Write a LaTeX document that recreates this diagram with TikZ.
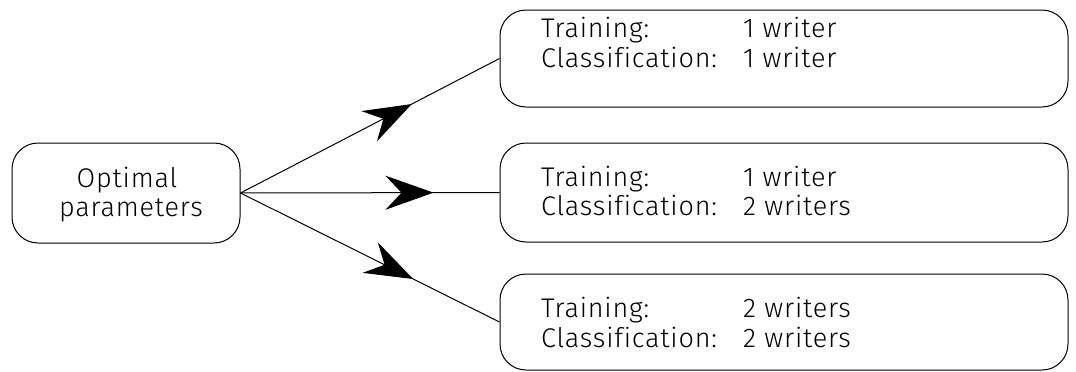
\documentclass[tikz,border=0pt]{standalone}
\usepackage{fontspec}
\setmainfont{Fira Sans}[UprightFont={* Light},LetterSpace=3,Ligatures={NoCommon}]
\usetikzlibrary{arrows.meta,decorations.markings}
\tikzset{
  box/.style={draw,line width=1pt,rounded corners=26pt,inner sep=0pt},
  txt/.style={anchor=base west,inner sep=0pt,font=\fontsize{27}{32}\selectfont},
  ctxt/.style={anchor=base,inner sep=0pt,font=\fontsize{27}{32}\selectfont},
  conn/.style={line width=1pt,postaction={decorate},
    decoration={markings,mark=at position 193pt with {\arrow{Stealth[length=48pt,width=34pt,inset=16pt]}}}}
}
\begin{document}
\begin{tikzpicture}[x=1pt,y=-1pt]
\useasboundingbox (0,0) rectangle (1076,372);
\node[box,minimum width=228pt,minimum height=100pt] (L) at (126,193) {};
\node[ctxt] (L1) at (127,187) {Optimal};
\node[ctxt] (L2) at (131,216) {parameters};
\node[box,minimum width=568pt,minimum height=97pt] (A) at (784,58.5) {};
\node[box,minimum width=568pt,minimum height=99pt] (B) at (784,192.5) {};
\node[box,minimum width=568pt,minimum height=96pt] (C) at (784,322) {};
\node[txt] (A1) at (541,37) {Training:};
\node[txt] (A2) at (743,37) {1 writer};
\node[txt] (A3) at (541,67) {Classification:};
\node[txt] (A4) at (743,67) {1 writer};
\node[txt] (B1) at (541,186) {Training:};
\node[txt] (B2) at (743,186) {1 writer};
\node[txt] (B3) at (541,215) {Classification:};
\node[txt] (B4) at (743,215) {2 writers};
\node[txt] (C1) at (541,317) {Training:};
\node[txt] (C2) at (743,317) {2 writers};
\node[txt] (C3) at (541,347) {Classification:};
\node[txt] (C4) at (743,347) {2 writers};
\draw[conn] (L.east) -- (A.west);
\draw[conn] (L.east) -- (B.west);
\draw[conn] (L.east) -- (C.west);
\end{tikzpicture}
\end{document}
